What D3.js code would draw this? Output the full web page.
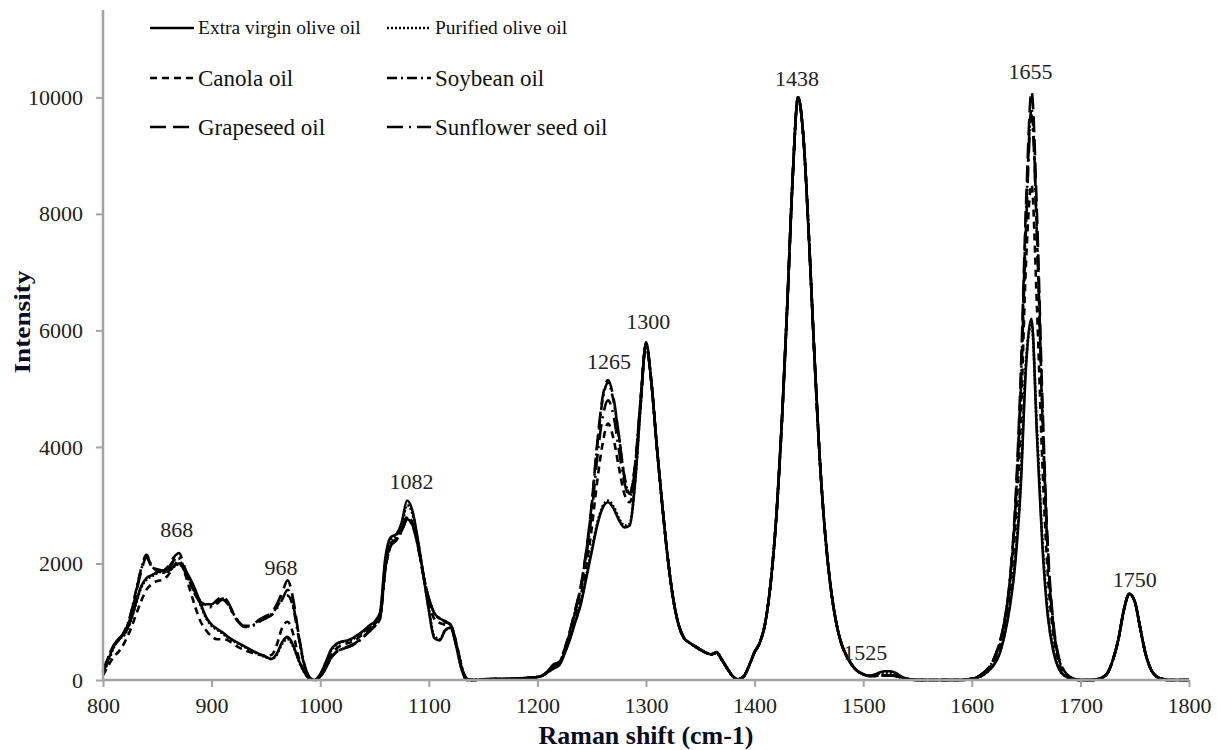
<!DOCTYPE html>
<html>
<head>
<meta charset="utf-8">
<script src="https://cdn.jsdelivr.net/npm/d3@7"></script>
<style>
  body { margin: 0; background: #fff; }
  svg text { font-family: "Liberation Serif", "Times New Roman", serif !important; }
</style>
</head>
<body>
<svg id="chart" width="1217" height="750" font-family="Liberation Serif, serif"></svg>
<script>
// ── Data (Raman shift, cm-1) ─────────────────────────────────────────────────
const shifts = [
  800, 805, 810, 815, 820, 825, 830, 835, 840, 845,
  850, 855, 860, 865, 870, 875, 880, 885, 890, 895,
  900, 905, 910, 915, 920, 925, 930, 935, 940, 945,
  950, 955, 960, 965, 970, 975, 980, 985, 990, 995,
  1000, 1005, 1010, 1015, 1020, 1025, 1030, 1035, 1040, 1045,
  1050, 1055, 1060, 1065, 1070, 1075, 1080, 1085, 1090, 1095,
  1100, 1105, 1110, 1115, 1120, 1125, 1130, 1135, 1140, 1150,
  1160, 1170, 1180, 1190, 1200, 1205, 1210, 1215, 1220, 1225,
  1230, 1235, 1240, 1245, 1250, 1255, 1260, 1265, 1270, 1275,
  1280, 1285, 1290, 1295, 1300, 1305, 1310, 1315, 1320, 1325,
  1330, 1335, 1340, 1345, 1350, 1355, 1360, 1365, 1370, 1375,
  1380, 1385, 1390, 1395, 1400, 1405, 1410, 1415, 1420, 1425,
  1430, 1435, 1440, 1445, 1450, 1455, 1460, 1465, 1470, 1475,
  1480, 1485, 1490, 1495, 1500, 1505, 1510, 1515, 1520, 1525,
  1530, 1535, 1540, 1550, 1560, 1570, 1580, 1590, 1600, 1605,
  1610, 1615, 1620, 1625, 1630, 1635, 1640, 1645, 1650, 1655,
  1660, 1665, 1670, 1675, 1680, 1685, 1690, 1695, 1700, 1710,
  1715, 1720, 1725, 1730, 1735, 1740, 1745, 1750, 1755, 1760,
  1765, 1770, 1775, 1780, 1790, 1800
];

const evoo = [
  120, 350, 600, 720, 800, 1000, 1300, 1600, 1750, 1800,
  1850, 1880, 1870, 1950, 2000, 1900, 1750, 1550, 1300, 1080,
  950, 880, 820, 740, 680, 630, 580, 530, 480, 440,
  400, 360, 450, 650, 740, 600, 350, 150, 30, 0,
  100, 300, 520, 620, 660, 680, 720, 780, 850, 930,
  1000, 1150, 2100, 2450, 2500, 2700, 3080, 2900, 2400, 1800,
  1200, 720, 680, 850, 900, 600, 200, 0, 0, 10,
  15, 15, 25, 35, 50, 80, 140, 200, 250, 450,
  700, 1000, 1300, 1750, 2200, 2650, 2950, 3050, 2950, 2750,
  2620, 2650, 3400, 4700, 5800, 5100, 4000, 3000, 2100, 1400,
  950, 720, 640, 580, 520, 470, 440, 480, 350, 200,
  60, 10, 60, 250, 480, 650, 1000, 1700, 2800, 4400,
  6400, 8600, 10000, 9300, 7600, 5600, 3800, 2500, 1600, 1000,
  620, 400, 250, 150, 100, 70, 90, 130, 150, 150,
  120, 60, 20, 0, 0, 0, 0, 0, 20, 40,
  80, 150, 250, 420, 750, 1250, 2000, 3300, 5400, 6200,
  4200, 2300, 1100, 500, 200, 80, 30, 10, 0, 0,
  10, 40, 120, 350, 700, 1200, 1480, 1350, 900, 450,
  180, 60, 20, 0, 0, 0
];

const purified = [
  100, 320, 560, 700, 780, 980, 1280, 1580, 1720, 1780,
  1830, 1860, 1860, 1940, 1990, 1880, 1720, 1520, 1280, 1060,
  930, 860, 800, 730, 670, 620, 570, 520, 470, 430,
  390, 360, 430, 620, 700, 580, 340, 140, 30, 0,
  90, 280, 500, 600, 650, 670, 700, 760, 830, 910,
  980, 1120, 2050, 2400, 2480, 2650, 3000, 2850, 2380, 1800,
  1220, 760, 700, 850, 890, 600, 200, 0, 0, 10,
  15, 15, 25, 35, 50, 80, 140, 200, 260, 460,
  720, 1020, 1330, 1780, 2240, 2680, 2980, 3080, 2980, 2780,
  2650, 2680, 3420, 4700, 5780, 5100, 4000, 3000, 2100, 1400,
  950, 720, 640, 580, 520, 470, 440, 470, 340, 190,
  60, 10, 60, 250, 480, 650, 1000, 1700, 2800, 4400,
  6400, 8600, 10000, 9300, 7600, 5600, 3800, 2500, 1600, 1000,
  620, 400, 250, 150, 100, 70, 80, 110, 120, 120,
  100, 50, 20, 0, 0, 0, 0, 0, 20, 40,
  80, 150, 260, 440, 780, 1300, 2100, 3400, 5500, 6100,
  4300, 2400, 1150, 520, 210, 80, 30, 10, 0, 0,
  10, 40, 120, 350, 700, 1200, 1470, 1350, 900, 450,
  180, 60, 20, 0, 0, 0
];

const canola = [
  80, 250, 400, 500, 650, 850, 1100, 1350, 1550, 1650,
  1700, 1720, 1800, 1950, 2050, 1850, 1550, 1250, 1000, 850,
  750, 700, 700, 680, 620, 560, 520, 480, 450, 430,
  420, 430, 600, 900, 1000, 800, 400, 150, 30, 0,
  70, 230, 430, 540, 600, 630, 660, 720, 800, 880,
  960, 1080, 1950, 2350, 2420, 2600, 2800, 2700, 2350, 1800,
  1350, 1050, 980, 950, 920, 640, 230, 10, 0, 10,
  15, 15, 25, 35, 50, 80, 150, 220, 280, 480,
  760, 1080, 1450, 1950, 2600, 3400, 4050, 4400, 4150, 3650,
  3200, 3050, 3550, 4750, 5750, 5100, 4000, 3000, 2100, 1400,
  950, 720, 640, 580, 520, 470, 440, 470, 340, 190,
  60, 10, 60, 250, 480, 650, 1000, 1700, 2800, 4400,
  6400, 8600, 10000, 9300, 7600, 5600, 3800, 2500, 1600, 1000,
  620, 400, 250, 150, 100, 70, 70, 80, 80, 80,
  70, 40, 20, 0, 0, 0, 0, 0, 20, 50,
  100, 180, 320, 540, 900, 1550, 2600, 4400, 7200, 8500,
  6400, 3700, 1800, 800, 320, 120, 40, 10, 0, 0,
  10, 40, 120, 350, 700, 1200, 1480, 1350, 900, 450,
  180, 60, 20, 0, 0, 0
];

const soybean = [
  150, 400, 600, 700, 850, 1100, 1500, 1900, 2150, 1950,
  1880, 1850, 1920, 2050, 2100, 1900, 1680, 1480, 1340, 1290,
  1270, 1330, 1400, 1320, 1140, 1000, 920, 920, 960, 1020,
  1080, 1130, 1250, 1400, 1450, 1250, 750, 280, 50, 0,
  60, 200, 380, 480, 530, 560, 600, 660, 740, 830,
  920, 1050, 1900, 2300, 2400, 2550, 2750, 2650, 2300, 1800,
  1400, 1150, 1050, 1000, 950, 650, 250, 20, 0, 10,
  15, 15, 25, 35, 50, 80, 160, 260, 300, 520,
  830, 1200, 1600, 2200, 3000, 4000, 4800, 5100, 4800, 4200,
  3500, 3200, 3700, 4800, 5750, 5100, 4000, 3000, 2100, 1400,
  950, 720, 640, 580, 520, 470, 440, 470, 340, 190,
  60, 10, 60, 250, 480, 650, 1000, 1700, 2800, 4400,
  6400, 8600, 10000, 9300, 7600, 5600, 3800, 2500, 1600, 1000,
  620, 400, 250, 150, 100, 70, 70, 80, 80, 80,
  70, 40, 20, 0, 0, 0, 0, 0, 20, 50,
  110, 200, 350, 600, 1000, 1700, 2900, 5000, 8000, 9800,
  7700, 4600, 2200, 950, 380, 150, 50, 15, 0, 0,
  10, 40, 120, 350, 700, 1200, 1480, 1350, 900, 450,
  180, 60, 20, 0, 0, 0
];

const grapeseed = [
  130, 380, 580, 700, 830, 1050, 1450, 1850, 2100, 1950,
  1900, 1880, 1950, 2100, 2180, 1950, 1700, 1500, 1350, 1300,
  1300, 1370, 1430, 1340, 1150, 1000, 930, 930, 980, 1050,
  1100, 1150, 1300, 1500, 1710, 1400, 800, 300, 50, 0,
  60, 200, 380, 490, 540, 570, 610, 670, 750, 840,
  930, 1060, 1920, 2320, 2420, 2560, 2780, 2660, 2300, 1800,
  1400, 1150, 1060, 1010, 960, 660, 250, 20, 0, 10,
  15, 15, 25, 35, 50, 80, 160, 270, 310, 530,
  850, 1220, 1620, 2220, 3020, 4050, 4850, 5150, 4850, 4200,
  3500, 3200, 3700, 4800, 5750, 5100, 4000, 3000, 2100, 1400,
  950, 720, 640, 580, 520, 470, 440, 470, 340, 190,
  60, 10, 60, 250, 480, 650, 1000, 1700, 2800, 4400,
  6400, 8600, 10000, 9300, 7600, 5600, 3800, 2500, 1600, 1000,
  620, 400, 250, 150, 100, 70, 70, 80, 80, 80,
  70, 40, 20, 0, 0, 0, 0, 0, 20, 50,
  110, 200, 350, 600, 1000, 1700, 3000, 5200, 8200, 10100,
  8000, 4800, 2300, 1000, 400, 160, 60, 20, 0, 0,
  10, 40, 120, 350, 700, 1200, 1480, 1350, 900, 450,
  180, 60, 20, 0, 0, 0
];

const sunflower = [
  140, 390, 590, 700, 840, 1080, 1480, 1880, 2130, 1930,
  1870, 1840, 1900, 2030, 2080, 1880, 1660, 1460, 1320, 1270,
  1250, 1310, 1380, 1300, 1120, 990, 910, 910, 950, 1010,
  1060, 1110, 1220, 1380, 1550, 1300, 780, 290, 50, 0,
  60, 200, 380, 480, 530, 560, 600, 660, 740, 830,
  920, 1050, 1900, 2300, 2400, 2550, 2760, 2650, 2300, 1800,
  1400, 1150, 1050, 1000, 950, 650, 250, 20, 0, 10,
  15, 15, 25, 35, 50, 80, 160, 260, 290, 510,
  820, 1180, 1560, 2120, 2850, 3800, 4500, 4800, 4550, 3950,
  3400, 3150, 3650, 4800, 5750, 5100, 4000, 3000, 2100, 1400,
  950, 720, 640, 580, 520, 470, 440, 470, 340, 190,
  60, 10, 60, 250, 480, 650, 1000, 1700, 2800, 4400,
  6400, 8600, 10000, 9300, 7600, 5600, 3800, 2500, 1600, 1000,
  620, 400, 250, 150, 100, 70, 70, 80, 80, 80,
  70, 40, 20, 0, 0, 0, 0, 0, 20, 50,
  110, 200, 350, 600, 1000, 1700, 2900, 4900, 7800, 9700,
  7600, 4500, 2150, 930, 370, 150, 50, 15, 0, 0,
  10, 40, 120, 350, 700, 1200, 1480, 1350, 900, 450,
  180, 60, 20, 0, 0, 0
];

const seriesNames = ["Extra virgin olive oil", "Purified olive oil", "Canola oil",
                     "Soybean oil", "Grapeseed oil", "Sunflower seed oil"];
const seriesValues = [evoo, purified, canola, soybean, grapeseed, sunflower];

const xTicks = [800, 900, 1000, 1100, 1200, 1300, 1400, 1500, 1600, 1700, 1800];
const yTicks = [0, 2000, 4000, 6000, 8000, 10000];

// peak annotations: label, centre shift, baseline intensity
const peakText   = ["868", "968", "1082", "1265", "1300", "1438", "1525", "1655", "1750"];
const peakShift  = [868, 964, 1084, 1266, 1302, 1439, 1502, 1654, 1750];
const peakHeight = [2450, 1800, 3270, 5340, 6030, 10190, 340, 10310, 1590];

// ── Styles ────────────────────────────────────────────────────────────────────
const DASH = {
  "Extra virgin olive oil": null,
  "Purified olive oil": "2,2",
  "Canola oil": "7,5",
  "Soybean oil": "10,4,2,4",
  "Grapeseed oil": "16,7",
  "Sunflower seed oil": "16,6,2,6"
};
const AXIS_COLOR = "#a3a3a3";
const TEXT_COLOR = "#222";
const SERIF = "Liberation Serif, serif";

// ── Layout ────────────────────────────────────────────────────────────────────
const svg = d3.select("#chart");
const x = d3.scaleLinear().domain([800, 1800]).range([103, 1189]);
const y = d3.scaleLinear().domain([0, 11500]).range([680, 10]);

// series (olive oils drawn last so the solid line stays on top)
const line = d3.line()
  .x(d => x(d[0])).y(d => y(d[1]))
  .curve(d3.curveMonotoneX);

const drawOrder = [5, 4, 3, 2, 1, 0];
const gLines = svg.append("g");
drawOrder.forEach(i => {
  const pts = shifts.map((s, k) => [s, seriesValues[i][k]]);
  gLines.append("path")
    .datum(pts)
    .attr("d", line)
    .attr("fill", "none")
    .attr("stroke", "#000")
    .attr("stroke-width", 2.6)
    .attr("stroke-linejoin", "round")
    .attr("stroke-dasharray", DASH[seriesNames[i]]);
});

// ── Axes ──────────────────────────────────────────────────────────────────────
const xAxis = svg.append("g").attr("transform", `translate(0,${y(0)})`)
  .call(d3.axisBottom(x).tickValues(xTicks).tickSize(7).tickFormat(d3.format("d")));
const yAxis = svg.append("g").attr("transform", `translate(${x(800)},0)`)
  .call(d3.axisLeft(y).tickValues(yTicks).tickSize(7).tickFormat(d3.format("d")));

[xAxis, yAxis].forEach(ax => {
  ax.attr("font-family", SERIF).attr("font-size", 22);
  ax.select(".domain").attr("stroke", AXIS_COLOR).attr("stroke-width", 2.5);
  ax.selectAll(".tick line").attr("stroke", AXIS_COLOR).attr("stroke-width", 2);
  ax.selectAll(".tick text").attr("fill", TEXT_COLOR);
});
xAxis.selectAll(".tick text").attr("y", 17);
yAxis.selectAll(".tick text").attr("x", -20);
// domain without outer tick caps
xAxis.select(".domain").attr("d", `M${x(800)},0H${x(1800)}`);
yAxis.select(".domain").attr("d", `M0,${y(0)}V${y(11500)}`);

// axis titles
svg.append("text")
  .attr("x", (x(800) + x(1800)) / 2)
  .attr("y", 744)
  .attr("text-anchor", "middle")
  .attr("font-family", SERIF)
  .attr("font-weight", "bold")
  .attr("font-size", 25)
  .attr("textLength", 215)
  .attr("lengthAdjust", "spacingAndGlyphs")
  .attr("fill", "#0b0b1f")
  .text("Raman shift (cm-1)");

svg.append("text")
  .attr("transform", `translate(30,322) rotate(-90)`)
  .attr("text-anchor", "middle")
  .attr("font-family", SERIF)
  .attr("font-weight", "bold")
  .attr("font-size", 23)
  .attr("textLength", 103)
  .attr("lengthAdjust", "spacingAndGlyphs")
  .attr("fill", "#0b0b1f")
  .text("Intensity");

// ── Peak labels ───────────────────────────────────────────────────────────────
svg.append("g").selectAll("text")
  .data(peakText)
  .join("text")
  .attr("x", (d, i) => x(peakShift[i]))
  .attr("y", (d, i) => y(peakHeight[i]))
  .attr("text-anchor", "middle")
  .attr("font-family", SERIF)
  .attr("font-size", 22)
  .attr("fill", TEXT_COLOR)
  .text(d => d);

// ── Legend ────────────────────────────────────────────────────────────────────
const legendCols = [150, 387];
const legendRows = [28, 78, 127];
const legendFont = [19.5, 23, 23];
const gLeg = svg.append("g");
seriesNames.forEach((name, i) => {
  const cx = legendCols[i % 2];
  const cy = legendRows[Math.floor(i / 2)];
  gLeg.append("line")
    .attr("x1", cx).attr("x2", cx + 44)
    .attr("y1", cy).attr("y2", cy)
    .attr("stroke", "#000")
    .attr("stroke-width", 2.6)
    .attr("stroke-dasharray", DASH[name]);
  gLeg.append("text")
    .attr("x", cx + 48)
    .attr("y", cy)
    .attr("dy", "0.33em")
    .attr("font-family", SERIF)
    .attr("font-size", legendFont[Math.floor(i / 2)])
    .attr("fill", "#111")
    .text(name);
});
</script>
</body>
</html>
